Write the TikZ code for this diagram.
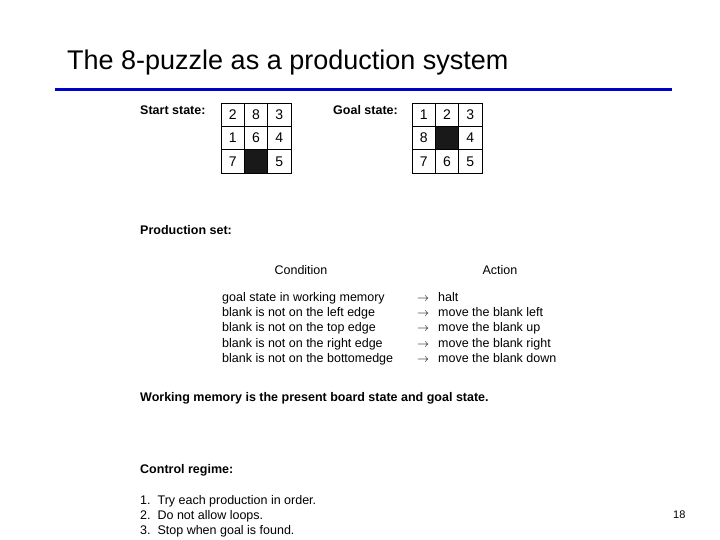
\documentclass[tikz,border=0pt]{standalone}
\usepackage{fontspec}
\setmainfont{Liberation Sans}
\begin{document}
\begin{tikzpicture}[x=1pt,y=-1pt,
  txt/.style={anchor=base west,inner sep=0pt,font=\fontsize{12.5}{14}\selectfont},
  bld/.style={txt,font=\fontsize{12.5}{14}\selectfont\bfseries},
  cell/.style={draw,line width=0.6pt,minimum size=23.3pt,inner sep=0pt,font=\fontsize{14}{16}\selectfont},
  blank/.style={cell,fill=black!90}]
\useasboundingbox (0,0) rectangle (720,540);
\node[anchor=base west,inner sep=0pt,font=\fontsize{27}{30}\selectfont] (title) at (67,70) {The 8-puzzle as a production system};
\coordinate (la) at (55,90); \coordinate (lb) at (672,90);
\draw[line width=3pt,blue!80!black] (la) -- (lb);
\node[bld] (ss) at (140,115) {Start state:};
\node[bld] (gs) at (333,115) {Goal state:};
\foreach \r/\a/\b/\c [count=\i from 0] in {0/2/8/3,1/1/6/4,2/7//5}{
  \node[cell] (s\i a) at (232.7,114.7+23.3*\i) {\a};
  \node[cell] (s\i c) at (279.3,114.7+23.3*\i) {\c};
}
\node[cell] (s0b) at (256,114.7) {8};
\node[cell] (s1b) at (256,138) {6};
\node[blank] (s2b) at (256,161.3) {};
\node[cell] (g0a) at (423.7,114.7) {1};
\node[cell] (g0b) at (447,114.7) {2};
\node[cell] (g0c) at (470.3,114.7) {3};
\node[cell] (g1a) at (423.7,138) {8};
\node[blank] (g1b) at (447,138) {};
\node[cell] (g1c) at (470.3,138) {4};
\node[cell] (g2a) at (423.7,161.3) {7};
\node[cell] (g2b) at (447,161.3) {6};
\node[cell] (g2c) at (470.3,161.3) {5};
\node[bld] (ps) at (140,234) {Production set:};
\node[txt,anchor=base] (cond) at (301,274) {Condition};
\node[txt,anchor=base] (act) at (500,274) {Action};
\foreach \y/\c/\a [count=\i] in {301/goal state in working memory/halt,
  316/blank is not on the left edge/move the blank left,
  331/blank is not on the top edge/move the blank up,
  347/blank is not on the right edge/move the blank right,
  362/blank is not on the bottomedge/move the blank down}{
  \node[txt] (c\i) at (222,\y) {\c};
  \node[txt] (r\i) at (417,\y) {$\rightarrow$};
  \node[txt] (a\i) at (438,\y) {\a};
}
\node[bld] (wm) at (140,401) {Working memory is the present board state and goal state.};
\node[bld] (cr) at (140,473) {Control regime:};
\node[txt] (n1) at (140,504) {1.\ \ Try each production in order.};
\node[txt] (n2) at (140,519) {2.\ \ Do not allow loops.};
\node[txt] (n3) at (140,534) {3.\ \ Stop when goal is found.};
\node[txt,font=\fontsize{11}{12}\selectfont] (pg) at (673,518) {18};
\end{tikzpicture}
\end{document}
